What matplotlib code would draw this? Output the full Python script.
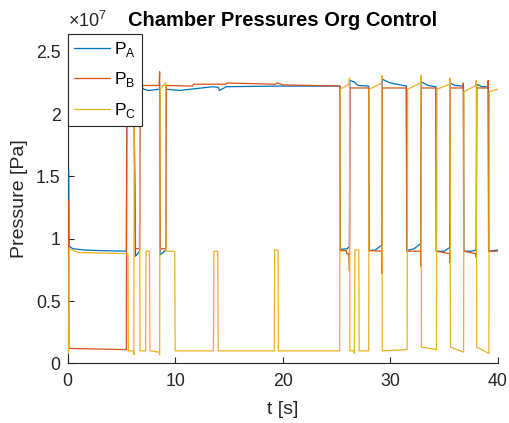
import matplotlib
matplotlib.use('Agg')
import matplotlib.pyplot as plt

plt.rcParams['font.family'] = ['Liberation Sans', 'DejaVu Sans']
plt.rcParams['mathtext.fontset'] = 'custom'
plt.rcParams['mathtext.rm'] = 'Liberation Sans'

# Zeit [s] und Druck [1e7 Pa]
t_a = [0.1, 0.13, 0.5, 1.5, 3, 5.45, 5.5, 6.15, 6.3, 6.5, 6.68, 6.72, 7.1, 7.5, 8.55, 8.6, 9.0, 9.12,
       9.16, 10.4, 13.5, 14.0, 14.1, 14.75, 19.4, 25.3, 25.34, 26.0, 26.19, 26.23, 26.6, 27.0, 27.98,
       28.02, 28.6, 29.2, 29.24, 30.0, 31.48, 31.52, 32.2, 32.82, 32.86, 33.5, 34.23, 34.27, 35.0,
       35.52, 35.56, 36.0, 36.79, 36.83, 37.5, 37.98, 38.02, 38.5, 39.1, 39.14, 40]
p_a = [1.55, 0.94, 0.92, 0.91, 0.905, 0.9, 2.2, 2.21, 0.86, 0.88, 0.9, 2.23, 2.2, 2.19, 2.2, 0.87, 0.9, 0.91,
       2.2, 2.19, 2.22, 2.215, 2.19, 2.22, 2.225, 2.225, 0.915, 0.92, 0.94, 2.27, 2.26, 2.23, 2.225,
       0.905, 0.91, 0.95, 2.28, 2.25, 2.225, 0.905, 0.92, 0.96, 2.26, 2.23, 2.22, 0.9, 0.9,
       0.93, 2.25, 2.23, 2.225, 0.9, 0.9, 0.91, 2.24, 2.22, 2.22, 0.9, 0.91]

t_b = [0.08, 0.11, 5.45, 5.5, 6.15, 6.3, 6.68, 6.72, 8.5, 8.55, 8.6, 9.12, 9.16, 11.6, 11.7, 14.7, 14.8,
       19.3, 19.5, 20, 25.3, 25.34, 25.9, 25.95, 26.15, 26.19, 26.23, 27.98, 28.02, 29.18, 29.2, 29.24,
       31.48, 31.52, 32.8, 32.82, 32.86, 34.23, 34.27, 35.52, 35.54, 35.56, 36.75, 36.77, 36.81,
       37.94, 37.98, 38.02, 39.05, 39.08, 39.12, 40]
p_b = [1.3, 0.12, 0.11, 2.23, 2.23, 0.92, 0.92, 2.23, 2.23, 2.34, 0.92, 0.92, 2.23, 2.225, 2.24, 2.24, 2.25,
       2.24, 2.25, 2.235, 2.225, 0.905, 0.905, 0.88, 0.88, 0.74, 2.21, 2.21, 0.905, 0.9, 0.72, 2.21,
       2.21, 0.9, 0.9, 0.78, 2.21, 2.21, 0.9, 0.88, 0.81, 2.21, 2.21, 2.25, 0.9,
       0.88, 0.85, 2.21, 2.21, 2.27, 0.9, 0.9]

t_c = [0.08, 0.1, 0.13, 1, 5.6, 5.64, 6.12, 6.15, 6.19, 6.68, 6.72, 7.24, 7.28, 7.6, 7.64, 8.52, 8.55,
       8.59, 9.1, 9.14, 9.95, 9.99, 13.55, 13.59, 13.95, 13.99, 19.2, 19.24, 19.55, 19.59, 25.28,
       25.32, 26.15, 26.19, 26.23, 26.6, 26.65, 26.7, 27.06, 27.1, 27.98, 28.02, 29.15, 29.2, 29.24,
       31.55, 31.6, 32.8, 32.84, 32.88, 34.28, 34.32, 35.5, 35.54, 35.58, 36.8, 36.84, 37.94, 37.98,
       38.02, 39.15, 39.19, 40]
p_c = [0.08, 0.2, 0.92, 0.89, 0.88, 0.1, 0.1, 0.07, 2.2, 2.23, 0.1, 0.1, 0.9, 0.9, 0.1, 0.09, 0.07,
       2.2, 2.25, 0.9, 0.9, 0.1, 0.1, 0.9, 0.9, 0.1, 0.1, 0.91, 0.91, 0.1, 0.1,
       2.2, 2.24, 2.29, 0.1, 0.1, 0.08, 0.91, 0.91, 0.1, 0.1, 2.2, 2.245, 2.31, 0.1,
       0.11, 2.2, 2.25, 2.31, 0.13, 0.11, 2.2, 2.24, 2.29, 0.13, 0.09, 2.18, 2.23, 2.27,
       0.13, 0.08, 2.18, 2.2]

y_ticks = [0, 0.5, 1, 1.5, 2, 2.5]
y_labels = ['0', '0.5', '1', '1.5', '2', '2.5']
x_ticks = [0, 10, 20, 30, 40]

farben = ['#0072BD', '#D95319', '#EDB120']
achse = '#262626'

fig = plt.figure(figsize=(5.10, 4.23), dpi=100)
ax = fig.add_axes([0.1327, 0.141, 0.8438, 0.7786])

ax.plot(t_a, p_a, color=farben[0], lw=0.9, label=r'P$_\mathrm{A}$', zorder=3)
ax.plot(t_b, p_b, color=farben[1], lw=0.9, label=r'P$_\mathrm{B}$', zorder=3)
ax.plot(t_c, p_c, color=farben[2], lw=0.9, label=r'P$_\mathrm{C}$', zorder=3)

ax.set_xlim(0, 40)
ax.set_ylim(0, 2.643)
ax.set_xticks(x_ticks)
ax.set_yticks(y_ticks)
ax.set_yticklabels(y_labels)

# Exponent wie bei MATLAB oben links
ax.text(0, 1.008, r'$\times10^{7}$', transform=ax.transAxes, ha='left', va='bottom',
        fontsize=13, color=achse)

for s in ['top', 'right']:
    ax.spines[s].set_visible(False)
for s in ['left', 'bottom']:
    ax.spines[s].set_color(achse)
    ax.spines[s].set_linewidth(0.8)
ax.tick_params(direction='in', length=4, width=0.8, colors=achse, labelsize=12.8)
ax.tick_params(axis='x', pad=7)
ax.tick_params(axis='y', pad=5)

ax.set_xlabel('t [s]', fontsize=14, color=achse, labelpad=8)
ax.set_ylabel('Pressure [Pa]', fontsize=14, color=achse, labelpad=6)
ax.set_title('Chamber Pressures Org Control', fontsize=14.5, fontweight='bold', pad=6)

leg = ax.legend(loc='upper left', borderaxespad=0, fancybox=False, framealpha=1,
                edgecolor=achse, fontsize=12.5, handlelength=2.1, handletextpad=0.2,
                labelspacing=0.65, borderpad=0.35)
leg.get_frame().set_linewidth(0.8)

fig.savefig('out.png', dpi=100)
